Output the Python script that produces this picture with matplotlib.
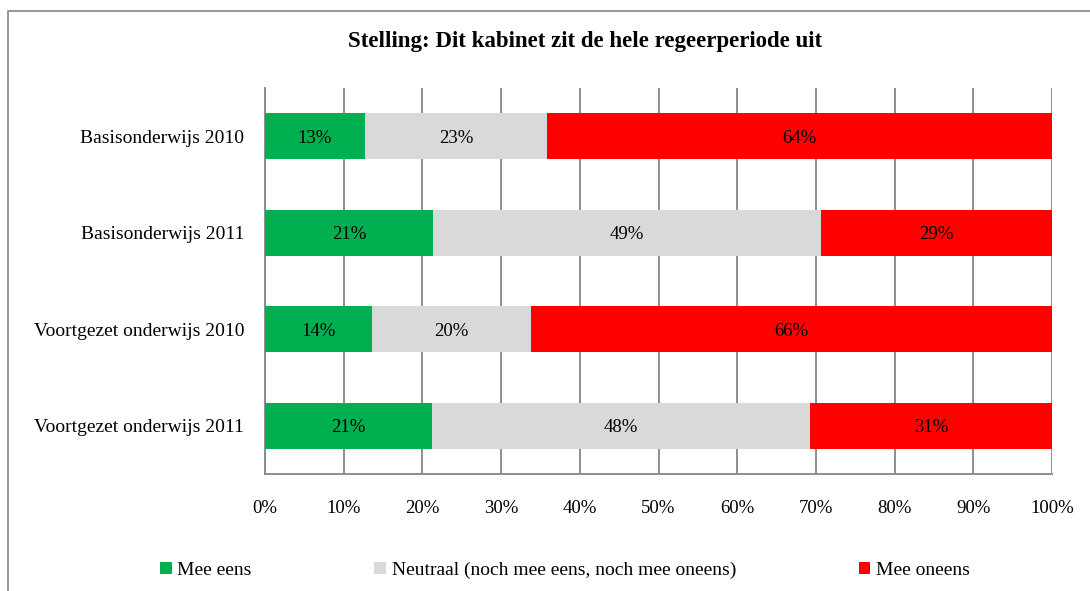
import matplotlib
matplotlib.use('Agg')
import matplotlib.pyplot as plt
from matplotlib.patches import Rectangle
import numpy as np

# Data
categories = ['Basisonderwijs 2010', 'Basisonderwijs 2011',
              'Voortgezet onderwijs 2010', 'Voortgezet onderwijs 2011']
mee_eens = [12.7, 21.4, 13.6, 21.2]
neutraal = [23.1, 49.2, 20.2, 48.1]
mee_oneens = [64.2, 29.4, 66.2, 30.7]
series_names = ['Mee eens', 'Neutraal (noch mee eens, noch mee oneens)', 'Mee oneens']
x_ticks = [0, 10, 20, 30, 40, 50, 60, 70, 80, 90, 100]

colors = ['#00B050', '#D9D9D9', '#FF0000']
grid_color = '#868686'

plt.rcParams['font.family'] = ['Liberation Serif', 'DejaVu Serif']

fig = plt.figure(figsize=(10.9, 5.91), dpi=100)
ax = fig.add_axes([265 / 1090, 117 / 591, 787 / 1090, 386 / 591])

# outer chart frame
fig.patches.append(Rectangle((8 / 1090, -0.2), 1.2, 1.2 - 11 / 591,
                             transform=fig.transFigure, fill=False,
                             edgecolor=grid_color, linewidth=1.2))

y = np.arange(len(categories))
left = np.zeros(len(categories))
for vals, name, col in zip([mee_eens, neutraal, mee_oneens], series_names, colors):
    bars = ax.barh(y, vals, left=left, height=0.48, color=col, label=name,
                   zorder=3, edgecolor='none')
    for bar, v in zip(bars, vals):
        ax.text(bar.get_x() + bar.get_width() / 2, bar.get_y() + bar.get_height() / 2 + 0.02,
                f'{v:.0f}%', ha='center', va='center', fontsize=13.5, zorder=4)
    left += np.array(vals)

ax.set_xlim(0, 100)
ax.set_ylim(3.5, -0.5)
ax.set_xticks(x_ticks)
ax.set_xticklabels([f'{t}%' for t in x_ticks], fontsize=13.5)
ax.set_yticks(y)
ax.set_yticklabels(categories, fontsize=14)
ax.tick_params(axis='x', length=0, pad=19)
ax.tick_params(axis='y', length=0, pad=15)
ax.grid(True, axis='x', color=grid_color, linewidth=1.3, zorder=0)
ax.set_axisbelow(True)
for s in ['top', 'right']:
    ax.spines[s].set_visible(False)
for s in ['left', 'bottom']:
    ax.spines[s].set_color(grid_color)
    ax.spines[s].set_linewidth(1.3)

fig.text(585 / 1090, 1 - 42 / 591, 'Stelling: Dit kabinet zit de hele regeerperiode uit',
         ha='center', va='center', fontsize=16.5, fontweight='bold')

fig.legend(loc='center', bbox_to_anchor=(565 / 1090, 21 / 591), ncol=3,
           frameon=False, fontsize=14, handlelength=0.6, handleheight=0.6,
           handletextpad=0.3, columnspacing=6.3)

plt.savefig('out.png', dpi=100)
